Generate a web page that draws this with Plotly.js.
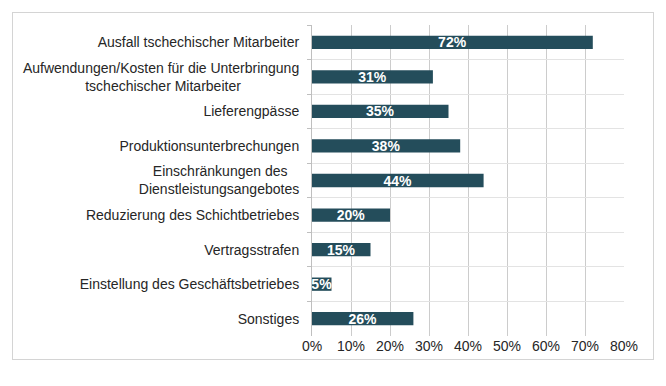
<!DOCTYPE html>
<html>
<head>
<meta charset="utf-8">
<script src="https://cdn.plot.ly/plotly-3.0.1.min.js"></script>
<style>
html,body{margin:0;padding:0;background:#fff;}
#frame{position:absolute;left:12px;top:12px;width:640px;height:346px;border:1px solid #d4d4d4;pointer-events:none;}
#chart{position:absolute;left:0;top:0;width:666px;height:386px;}
</style>
</head>
<body>
<div id="chart"></div>
<div id="frame"></div>
<script>
const NB = "\u00A0";
const categories = [
  "Ausfall tschechischer Mitarbeiter",
  "Aufwendungen/Kosten für die Unterbringung<br>tschechischer Mitarbeiter" + NB.repeat(15),
  "Lieferengpässe",
  "Produktionsunterbrechungen",
  "Einschränkungen des" + NB.repeat(3) + "<br>Dienstleistungsangebotes",
  "Reduzierung des Schichtbetriebes",
  "Vertragsstrafen",
  "Einstellung des Geschäftsbetriebes",
  "Sonstiges"
];
const values = [0.72, 0.31, 0.35, 0.38, 0.44, 0.20, 0.15, 0.05, 0.26];
const labels = ["72%", "31%", "35%", "38%", "44%", "20%", "15%", "5%", "26%"];
const xTicks = [0, 0.1, 0.2, 0.3, 0.4, 0.5, 0.6, 0.7, 0.8];
const xTickLabels = ["0%", "10%", "20%", "30%", "40%", "50%", "60%", "70%", "80%"];

const trace = {
  type: "bar",
  orientation: "h",
  y: categories,
  x: values,
  text: labels,
  textposition: "inside",
  insidetextanchor: "middle",
  constraintext: "none",
  textfont: {family: "Liberation Sans, Arial, sans-serif", size: 14, color: "#ffffff", weight: "bold"},
  marker: {color: "#244d5b"},
  hoverinfo: "none"
};

const layout = {
  width: 666,
  height: 386,
  margin: {l: 312, r: 42, t: 25, b: 50, pad: 0},
  paper_bgcolor: "#ffffff",
  plot_bgcolor: "#ffffff",
  showlegend: false,
  bargap: 0.615,
  font: {family: "Liberation Sans, Arial, sans-serif", size: 14, color: "#262626"},
  xaxis: {
    range: [0, 0.8],
    tickvals: xTicks,
    ticktext: xTickLabels,
    showgrid: true,
    gridcolor: "#cccccc",
    gridwidth: 1,
    zeroline: false,
    showline: false,
    ticks: "",
    tickfont: {size: 14, color: "#262626"},
    fixedrange: true
  },
  yaxis: {
    type: "category",
    autorange: "reversed",
    tickson: "boundaries",
    ticks: "outside",
    ticklen: 4,
    tickcolor: "#bfbfbf",
    showgrid: true,
    gridcolor: "#e3e3e3",
    gridwidth: 1,
    showline: true,
    linecolor: "#bfbfbf",
    linewidth: 1,
    zeroline: false,
    tickfont: {size: 14, color: "#262626"},
    ticklabelstandoff: 9,
    fixedrange: true
  }
};

Plotly.newPlot("chart", [trace], layout, {displayModeBar: false, staticPlot: true});
</script>
</body>
</html>
